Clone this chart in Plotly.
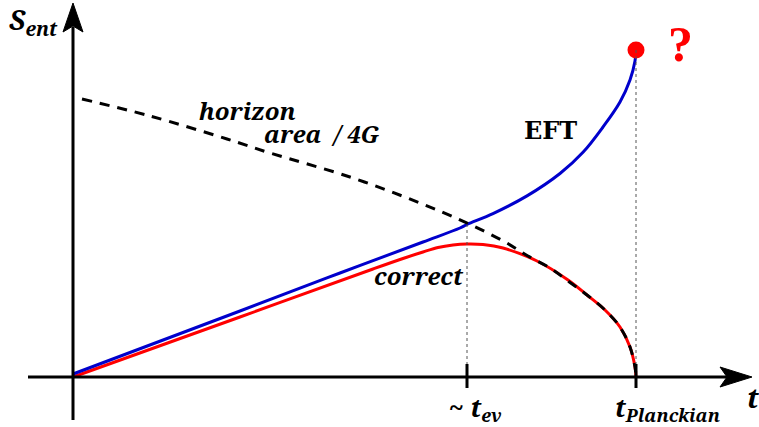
import plotly.graph_objects as go

# ---- data (t, S in schematic units; origin at the axes crossing) ----
t_eft = [0, 167, 267, 350, 387, 394, 420, 454, 487, 510, 530, 547, 557, 562, 563]
s_eft = [3, 66, 104, 135, 149, 152.5, 163.4, 181.1, 203.5, 224.7, 250, 275, 297, 316, 327]

t_correct = [0, 167, 300, 330, 350, 365, 380, 394, 410, 430, 464, 495, 514, 532, 547, 557, 562, 563]
s_correct = [0, 60, 108, 118.5, 125, 129.5, 132, 133, 132.5, 129, 116, 97, 82, 67, 50, 30, 10, 0]

t_area = [9, 77, 154, 197, 277, 347, 394, 432, 455, 477, 495, 514, 532, 547, 557, 562, 563]
s_area = [278, 261, 238, 224, 200, 174, 154, 135, 121, 109, 96, 82, 67, 50, 30, 10, 0]

t_ev = 394
t_planck = 563
s_ev_eft = 152.5
s_end = 327

tick_labels = ["~ <i>t</i><sub><i>ev</i></sub>", "<i>t</i><sub><i>Planckian</i></sub>"]

FONT = "Noto Serif, DejaVu Serif, serif"
FONT_UP = "DejaVu Serif, Noto Serif, serif"

fig = go.Figure()

fig.add_trace(go.Scatter(x=t_correct, y=s_correct, mode="lines",
                         line=dict(color="#ff0000", width=3, shape="spline", smoothing=1),
                         hoverinfo="skip"))
fig.add_trace(go.Scatter(x=t_eft, y=s_eft, mode="lines",
                         line=dict(color="#0000cc", width=3, shape="spline", smoothing=1),
                         hoverinfo="skip"))
fig.add_trace(go.Scatter(x=t_area, y=s_area, mode="lines",
                         line=dict(color="black", width=3, dash="10px,8px", shape="spline", smoothing=1),
                         hoverinfo="skip"))
fig.add_trace(go.Scatter(x=[t_planck], y=[s_end], mode="markers",
                         marker=dict(color="#ff0000", size=17), hoverinfo="skip"))

shapes = []
# dotted guide lines
shapes.append(dict(type="line", x0=t_ev, x1=t_ev, y0=0, y1=s_ev_eft,
                   line=dict(color="#555555", width=1, dash="dot")))
shapes.append(dict(type="line", x0=t_planck, x1=t_planck, y0=0, y1=s_end,
                   line=dict(color="#555555", width=1, dash="dot")))
# axes
shapes.append(dict(type="line", x0=-45, x1=665, y0=0, y1=0, line=dict(color="black", width=3)))
shapes.append(dict(type="line", x0=0, x1=0, y0=-43, y1=350, line=dict(color="black", width=3)))
# arrow heads
shapes.append(dict(type="path", path="M 679 0 L 647 -10 L 654 0 L 647 10 Z",
                   fillcolor="black", line=dict(color="black", width=1)))
shapes.append(dict(type="path", path="M 0 374 L -10 345 L 0 351 L 10 345 Z",
                   fillcolor="black", line=dict(color="black", width=1)))
# ticks
for tv in (t_ev, t_planck):
    shapes.append(dict(type="line", x0=tv, x1=tv, y0=-11, y1=13, line=dict(color="black", width=3)))

fig.update_layout(shapes=shapes)

def ann(x, y, text, size, color="black", xanchor="center", family=FONT):
    fig.add_annotation(x=x, y=y, text=text, showarrow=False, xanchor=xanchor, yanchor="middle",
                       font=dict(family=family, size=size, color=color))

ann(-66, 356, "<b><i>S<sub>ent</sub></i></b>", 28, xanchor="left")
ann(680, -20, "<b><i>t</i></b>", 28)
ann(t_ev + 8, -31, "<b>" + tick_labels[0] + "</b>", 26)
ann(t_planck + 31, -31, "<b>" + tick_labels[1] + "</b>", 26)
ann(174, 267, "<b><i>horizon</i></b>", 24)
ann(249, 244, "<b><i>area\u00a0 / 4G</i></b>", 24)
ann(477, 247, "<b>EFT</b>", 24, family=FONT_UP)
ann(346, 102, "<b><i>correct</i></b>", 24)
ann(607, 333, "<b>?</b>", 50, color="#ff0000", family="Liberation Serif, Noto Serif, serif")

fig.update_layout(
    width=759, height=427,
    margin=dict(l=0, r=0, t=0, b=0),
    paper_bgcolor="white", plot_bgcolor="white",
    showlegend=False,
    font=dict(family=FONT),
    xaxis=dict(range=[-73, 686], visible=False, fixedrange=True),
    yaxis=dict(range=[-50, 377], visible=False, fixedrange=True),
)

fig.write_html("out.html", config=dict(displayModeBar=False),
               post_script="document.body.style.margin='0px';document.body.style.overflow='hidden';")
